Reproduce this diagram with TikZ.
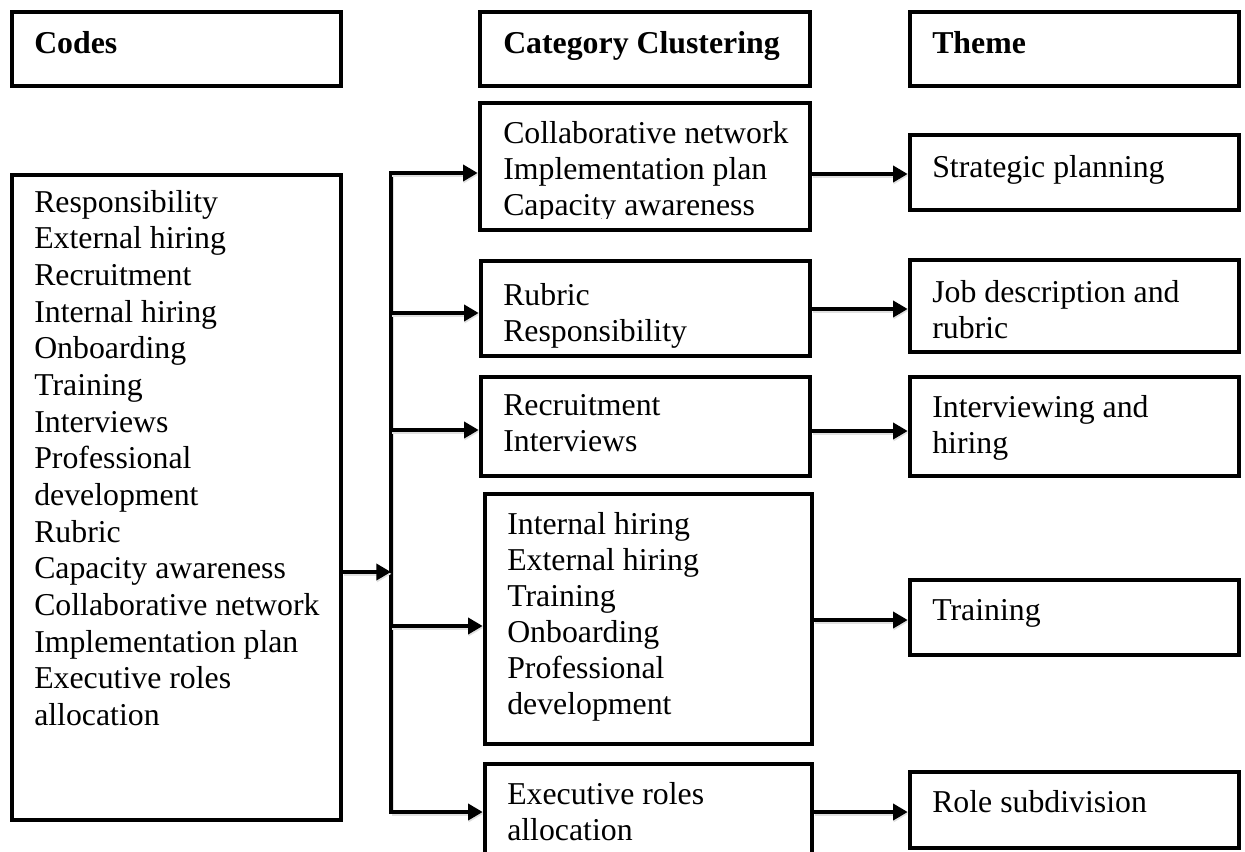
\documentclass[tikz,border=0pt]{standalone}
\usepackage{fontspec}
\setmainfont{Liberation Serif}
\usetikzlibrary{arrows.meta,fit}
\newcommand\myfirst{\rule{0pt}{20pt}}
\begin{document}
\begin{tikzpicture}[x=0.75pt,y=-0.75pt,
  box/.style={draw, line width=3.4pt, inner sep=0pt},
  txt/.style={anchor=north west, inner sep=0pt, align=left, yshift=20pt,
    font=\fontsize{23.85pt}{27pt}\selectfont},
  txtwide/.style={txt, font=\fontsize{23.85pt}{27.5pt}\selectfont},
  shad/.style={preaction={draw, black!12, line width=3.4pt, transform canvas={shift={(0.4pt,-1.4pt)}}}},
  conn/.style={line width=3pt, shad},
  arr/.style={line width=3pt, shad, -{Triangle[length=11pt,width=12pt]}}]
\useasboundingbox (0,0) rectangle (1245,852);
\clip (0,0) rectangle (1245,852);
% boxes
\node[box, fit={(12,12) (341,86)}] (codes) {};
\node[box, fit={(480,12) (810,86)}] (cch) {};
\node[box, fit={(910,12) (1239,86)}] (thh) {};
\node[box, fit={(12,175) (341,820)}] (left) {};
\node[box, fit={(480,103) (810,230)}] (c1) {};
\node[box, fit={(481,261) (810,356)}] (c2) {};
\node[box, fit={(481,377) (810,476)}] (c3) {};
\node[box, fit={(485,494) (812,744)}] (c4) {};
\node[box, fit={(485,764) (812,890)}] (c5) {};
\node[box, fit={(910,135) (1239,210)}] (t1) {};
\node[box, fit={(910,260) (1239,352)}] (t2) {};
\node[box, fit={(910,377) (1239,476)}] (t3) {};
\node[box, fit={(910,580) (1239,655)}] (t4) {};
\node[box, fit={(910,772) (1239,848)}] (t5) {};
% texts
\node[txt] (codesT) at (34,53) {\myfirst\textbf{Codes}};
\node[txt] (cchT) at (503,53) {\myfirst\textbf{Category Clustering}};
\node[txt] (thhT) at (932,53) {\myfirst\textbf{Theme}};
\node[txtwide] (leftT) at (34,212) {\myfirst Responsibility\\External hiring\\Recruitment\\Internal hiring\\Onboarding\\Training\\Interviews\\Professional\\development\\Rubric\\Capacity awareness\\Collaborative network\\Implementation plan\\Executive roles\\allocation};
\begin{scope}
\clip (482,105) rectangle (808,219);
\node[txt] (c1T) at (503,143) {\myfirst Collaborative network\\Implementation plan\\Capacity awareness};
\end{scope}
\node[txt] (c2T) at (503,305) {\myfirst Rubric\\Responsibility};
\node[txt] (c3T) at (503,415) {\myfirst Recruitment\\Interviews};
\node[txt] (c4T) at (507,534) {\myfirst Internal hiring\\External hiring\\Training\\Onboarding\\Professional\\development};
\node[txt] (c5T) at (507,804) {\myfirst Executive roles\\allocation};
\node[txt] (t1T) at (932,177) {\myfirst Strategic planning};
\node[txt] (t2T) at (932,302) {\myfirst Job description and\\rubric};
\node[txt] (t3T) at (932,417) {\myfirst Interviewing and\\hiring};
\node[txt] (t4T) at (932,620) {\myfirst Training};
\node[txt] (t5T) at (932,812) {\myfirst Role subdivision};
% bracket
\coordinate (j0) at (391,572);
\coordinate (j1) at (391,173);
\coordinate (j2) at (391,313);
\coordinate (j3) at (391,430);
\coordinate (j4) at (391,626);
\coordinate (j5) at (391,812);
\draw[conn, line cap=rect] (j1) -- (j5);
\draw[arr] (left.east |- j0) -- (j0);
\draw[arr] (j1) -- (j1 -| c1.west);
\draw[arr] (j2) -- (j2 -| c2.west);
\draw[arr] (j3) -- (j3 -| c3.west);
\draw[arr] (j4) -- (j4 -| c4.west);
\draw[arr] (j5) -- (j5 -| c5.west);
% to themes
\coordinate (k1) at (0,174);
\coordinate (k2) at (0,309);
\coordinate (k3) at (0,431);
\coordinate (k4) at (0,620);
\coordinate (k5) at (0,812);
\draw[arr] (k1 -| c1.east) -- (k1 -| t1.west);
\draw[arr] (k2 -| c2.east) -- (k2 -| t2.west);
\draw[arr] (k3 -| c3.east) -- (k3 -| t3.west);
\draw[arr] (k4 -| c4.east) -- (k4 -| t4.west);
\draw[arr] (k5 -| c5.east) -- (k5 -| t5.west);
\end{tikzpicture}
\end{document}
